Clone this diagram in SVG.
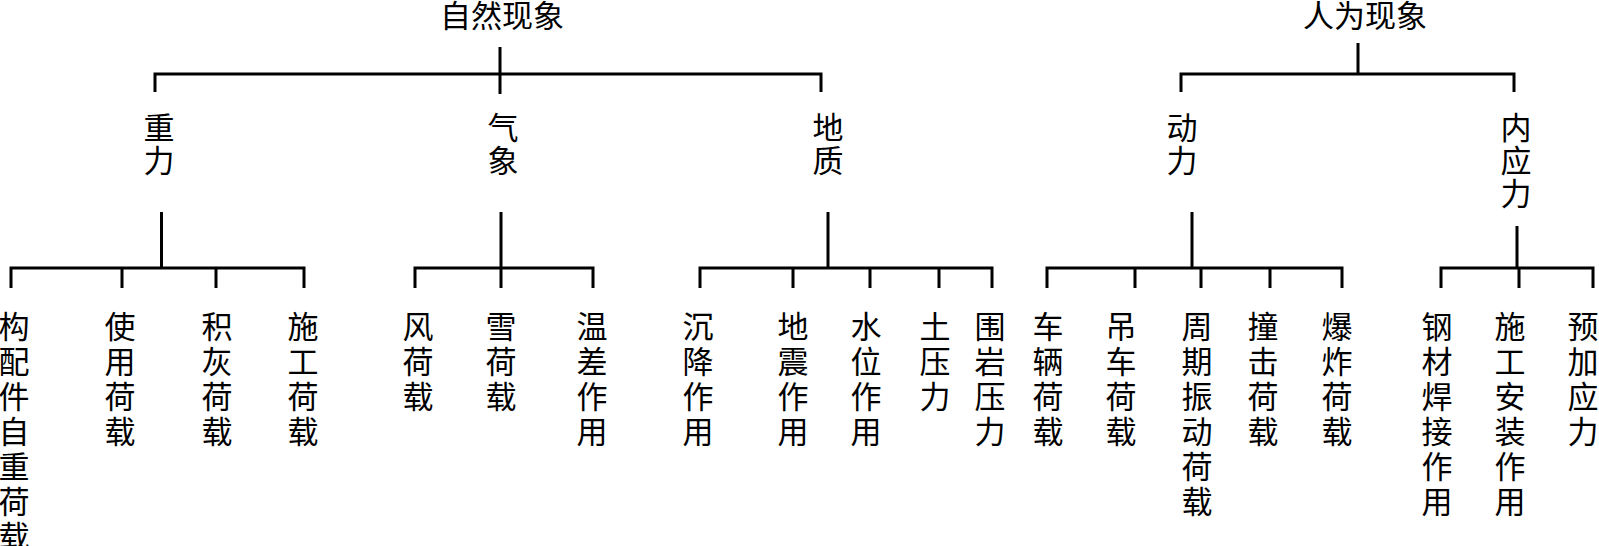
<svg xmlns="http://www.w3.org/2000/svg" width="1599" height="546" viewBox="0 0 1599 546">
<style>
.ln{fill:none;stroke:#000;stroke-width:3;stroke-linecap:butt;stroke-linejoin:miter}
text{font-family:"Noto Sans CJK SC","Noto Sans CJK TC",sans-serif;font-size:31px;fill:#000;text-anchor:middle}
</style>
<rect width="1599" height="546" fill="#fff"/>
<g id="connectors">
<path class="ln" d="M155,92V74H821V92M500,47V94"/>
<path class="ln" d="M1181,92V74H1514V92M1358,43V74"/>
<path class="ln" d="M161.5,212V268M11,288V268H304V288M122,268V288M216,268V288"/>
<path class="ln" d="M501,212V288M415,288V268H593V288"/>
<path class="ln" d="M828,212V268M700,288V268H992V288M793,268V288M870,268V288M939,268V288"/>
<path class="ln" d="M1192,212V268M1047,288V268H1342V288M1135,268V288M1201,268V288M1270,268V288"/>
<path class="ln" d="M1517,226V268M1441,288V268H1593V288M1519,268V288"/>
</g>
<g id="n-ziran"><text x="502" y="27">自然现象</text></g>
<g id="n-renwei"><text x="1365" y="27">人为现象</text></g>
<g id="n-zhongli"><text x="159" y="139"><tspan x="159">重</tspan><tspan x="159" dy="33">力</tspan></text></g>
<g id="n-qixiang"><text x="503" y="139"><tspan x="503">气</tspan><tspan x="503" dy="33">象</tspan></text></g>
<g id="n-dizhi"><text x="828" y="139"><tspan x="828">地</tspan><tspan x="828" dy="33">质</tspan></text></g>
<g id="n-dongli"><text x="1182" y="139"><tspan x="1182">动</tspan><tspan x="1182" dy="33">力</tspan></text></g>
<g id="n-neiyingli"><text x="1516" y="139"><tspan x="1516">内</tspan><tspan x="1516" dy="33">应</tspan><tspan x="1516" dy="33">力</tspan></text></g>
<g id="n1"><text x="14" y="338"><tspan x="14">构</tspan><tspan x="14" dy="35">配</tspan><tspan x="14" dy="35">件</tspan><tspan x="14" dy="35">自</tspan><tspan x="14" dy="35">重</tspan><tspan x="14" dy="35">荷</tspan><tspan x="14" dy="35">载</tspan></text></g>
<g id="n2"><text x="120" y="338"><tspan x="120">使</tspan><tspan x="120" dy="35">用</tspan><tspan x="120" dy="35">荷</tspan><tspan x="120" dy="35">载</tspan></text></g>
<g id="n3"><text x="217" y="338"><tspan x="217">积</tspan><tspan x="217" dy="35">灰</tspan><tspan x="217" dy="35">荷</tspan><tspan x="217" dy="35">载</tspan></text></g>
<g id="n4"><text x="303" y="338"><tspan x="303">施</tspan><tspan x="303" dy="35">工</tspan><tspan x="303" dy="35">荷</tspan><tspan x="303" dy="35">载</tspan></text></g>
<g id="n5"><text x="418" y="338"><tspan x="418">风</tspan><tspan x="418" dy="35">荷</tspan><tspan x="418" dy="35">载</tspan></text></g>
<g id="n6"><text x="501" y="338"><tspan x="501">雪</tspan><tspan x="501" dy="35">荷</tspan><tspan x="501" dy="35">载</tspan></text></g>
<g id="n7"><text x="592" y="338"><tspan x="592">温</tspan><tspan x="592" dy="35">差</tspan><tspan x="592" dy="35">作</tspan><tspan x="592" dy="35">用</tspan></text></g>
<g id="n8"><text x="698" y="338"><tspan x="698">沉</tspan><tspan x="698" dy="35">降</tspan><tspan x="698" dy="35">作</tspan><tspan x="698" dy="35">用</tspan></text></g>
<g id="n9"><text x="793" y="338"><tspan x="793">地</tspan><tspan x="793" dy="35">震</tspan><tspan x="793" dy="35">作</tspan><tspan x="793" dy="35">用</tspan></text></g>
<g id="n10"><text x="866" y="338"><tspan x="866">水</tspan><tspan x="866" dy="35">位</tspan><tspan x="866" dy="35">作</tspan><tspan x="866" dy="35">用</tspan></text></g>
<g id="n11"><text x="935" y="338"><tspan x="935">土</tspan><tspan x="935" dy="35">压</tspan><tspan x="935" dy="35">力</tspan></text></g>
<g id="n12"><text x="990" y="338"><tspan x="990">围</tspan><tspan x="990" dy="35">岩</tspan><tspan x="990" dy="35">压</tspan><tspan x="990" dy="35">力</tspan></text></g>
<g id="n13"><text x="1048" y="338"><tspan x="1048">车</tspan><tspan x="1048" dy="35">辆</tspan><tspan x="1048" dy="35">荷</tspan><tspan x="1048" dy="35">载</tspan></text></g>
<g id="n14"><text x="1121" y="338"><tspan x="1121">吊</tspan><tspan x="1121" dy="35">车</tspan><tspan x="1121" dy="35">荷</tspan><tspan x="1121" dy="35">载</tspan></text></g>
<g id="n15"><text x="1197" y="338"><tspan x="1197">周</tspan><tspan x="1197" dy="35">期</tspan><tspan x="1197" dy="35">振</tspan><tspan x="1197" dy="35">动</tspan><tspan x="1197" dy="35">荷</tspan><tspan x="1197" dy="35">载</tspan></text></g>
<g id="n16"><text x="1263" y="338"><tspan x="1263">撞</tspan><tspan x="1263" dy="35">击</tspan><tspan x="1263" dy="35">荷</tspan><tspan x="1263" dy="35">载</tspan></text></g>
<g id="n17"><text x="1337" y="338"><tspan x="1337">爆</tspan><tspan x="1337" dy="35">炸</tspan><tspan x="1337" dy="35">荷</tspan><tspan x="1337" dy="35">载</tspan></text></g>
<g id="n18"><text x="1437" y="338"><tspan x="1437">钢</tspan><tspan x="1437" dy="35">材</tspan><tspan x="1437" dy="35">焊</tspan><tspan x="1437" dy="35">接</tspan><tspan x="1437" dy="35">作</tspan><tspan x="1437" dy="35">用</tspan></text></g>
<g id="n19"><text x="1510" y="338"><tspan x="1510">施</tspan><tspan x="1510" dy="35">工</tspan><tspan x="1510" dy="35">安</tspan><tspan x="1510" dy="35">装</tspan><tspan x="1510" dy="35">作</tspan><tspan x="1510" dy="35">用</tspan></text></g>
<g id="n20"><text x="1583" y="338"><tspan x="1583">预</tspan><tspan x="1583" dy="35">加</tspan><tspan x="1583" dy="35">应</tspan><tspan x="1583" dy="35">力</tspan></text></g>
</svg>
